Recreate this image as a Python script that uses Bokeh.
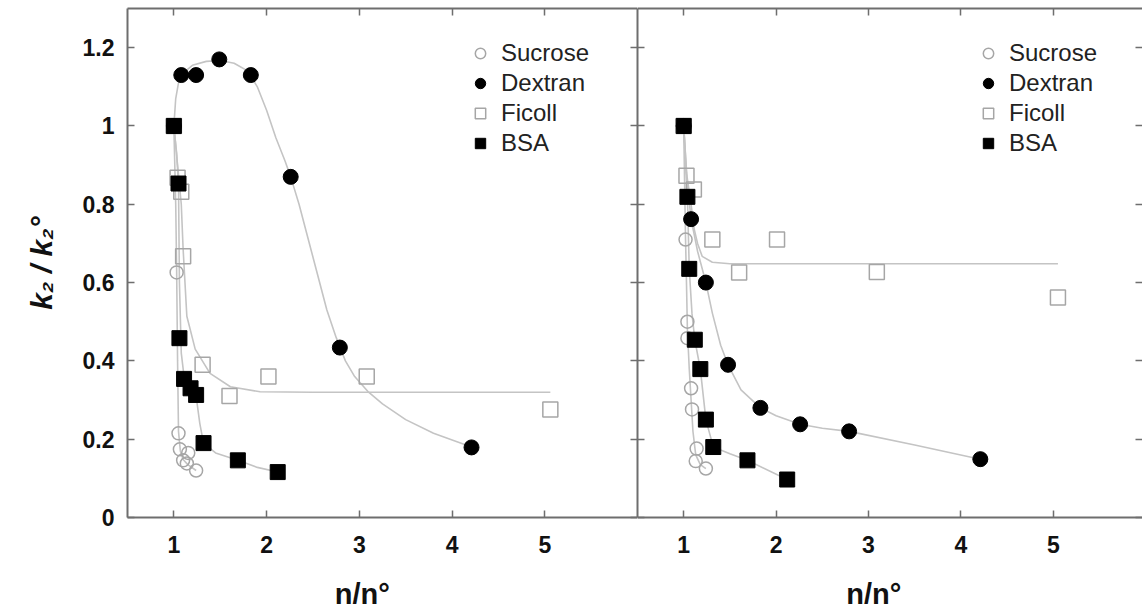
from bokeh.plotting import figure
from bokeh.layouts import row
from bokeh.models import Range1d, LinearAxis, FixedTicker, Legend, LegendItem
from bokeh.embed import file_html
from bokeh.resources import INLINE

# ---------------- data ----------------
series_names = ["Sucrose", "Dextran", "Ficoll", "BSA"]

# left panel
suc_L_x = [1.0, 1.03, 1.05, 1.065, 1.10, 1.14, 1.155, 1.24]
suc_L_y = [1.0, 0.626, 0.215, 0.174, 0.146, 0.138, 0.165, 0.12]
dex_L_x = [1.0, 1.08, 1.24, 1.49, 1.83, 2.26, 2.79, 4.21]
dex_L_y = [1.0, 1.13, 1.13, 1.17, 1.13, 0.87, 0.434, 0.179]
fic_L_x = [1.0, 1.04, 1.08, 1.10, 1.31, 1.60, 2.02, 3.08, 5.06]
fic_L_y = [1.0, 0.868, 0.832, 0.667, 0.39, 0.31, 0.36, 0.36, 0.276]
bsa_L_x = [1.0, 1.05, 1.06, 1.11, 1.18, 1.24, 1.32, 1.69, 2.12]
bsa_L_y = [1.0, 0.853, 0.458, 0.354, 0.33, 0.313, 0.19, 0.146, 0.116]

# left panel fitted curves
fit_suc_L_x = [1.0, 1.02, 1.03, 1.04, 1.05, 1.07, 1.10, 1.15, 1.24]
fit_suc_L_y = [1.0, 0.8, 0.63, 0.4, 0.22, 0.17, 0.148, 0.135, 0.12]
fit_dex_L_x = [1.0, 1.02, 1.05, 1.1, 1.2, 1.35, 1.5, 1.65, 1.8, 1.9, 2.0, 2.1, 2.2, 2.26,
               2.35, 2.45, 2.55, 2.65, 2.75, 2.85, 2.95, 3.1, 3.25, 3.5, 3.8, 4.21]
fit_dex_L_y = [1.0, 1.07, 1.11, 1.135, 1.155, 1.165, 1.167, 1.16, 1.14, 1.10, 1.04, 0.97,
               0.91, 0.87, 0.80, 0.71, 0.62, 0.53, 0.46, 0.40, 0.36, 0.32, 0.29, 0.25,
               0.215, 0.18]
fit_fic_L_x = [1.0, 1.04, 1.08, 1.10, 1.14, 1.23, 1.39, 1.61, 1.93, 2.5, 5.06]
fit_fic_L_y = [1.0, 0.9, 0.8, 0.685, 0.514, 0.43, 0.368, 0.334, 0.321, 0.32, 0.32]
fit_bsa_L_x = [1.0, 1.03, 1.05, 1.06, 1.08, 1.11, 1.18, 1.24, 1.28, 1.32, 1.45, 1.69, 1.9, 2.12]
fit_bsa_L_y = [1.0, 0.93, 0.85, 0.6, 0.42, 0.36, 0.33, 0.31, 0.24, 0.19, 0.165, 0.146, 0.128, 0.116]

# right panel
suc_R_x = [1.0, 1.02, 1.04, 1.04, 1.08, 1.09, 1.13, 1.14, 1.24]
suc_R_y = [1.0, 0.71, 0.50, 0.458, 0.33, 0.276, 0.144, 0.176, 0.125]
dex_R_x = [1.0, 1.08, 1.24, 1.48, 1.83, 2.26, 2.79, 4.21]
dex_R_y = [1.0, 0.762, 0.60, 0.39, 0.28, 0.238, 0.22, 0.149]
fic_R_x = [1.0, 1.03, 1.11, 1.31, 1.60, 2.01, 3.09, 5.05]
fic_R_y = [1.0, 0.873, 0.838, 0.71, 0.626, 0.71, 0.627, 0.562]
bsa_R_x = [1.0, 1.04, 1.06, 1.12, 1.18, 1.24, 1.32, 1.69, 2.12]
bsa_R_y = [1.0, 0.819, 0.635, 0.454, 0.379, 0.25, 0.18, 0.146, 0.097]

# right panel fitted curves
fit_suc_R_x = [1.0, 1.01, 1.02, 1.03, 1.04, 1.06, 1.08, 1.10, 1.13, 1.18, 1.24]
fit_suc_R_y = [1.0, 0.85, 0.71, 0.6, 0.48, 0.38, 0.3, 0.22, 0.16, 0.135, 0.125]
fit_dex_R_x = [1.0, 1.04, 1.08, 1.15, 1.24, 1.31, 1.40, 1.48, 1.62, 1.83, 2.0, 2.26, 2.5,
               2.79, 3.5, 4.21]
fit_dex_R_y = [1.0, 0.85, 0.762, 0.68, 0.60, 0.522, 0.44, 0.39, 0.326, 0.28, 0.26, 0.238, 0.228,
               0.22, 0.185, 0.149]
fit_fic_R_x = [1.0, 1.03, 1.08, 1.11, 1.15, 1.20, 1.31, 1.5, 5.05]
fit_fic_R_y = [1.0, 0.88, 0.80, 0.74, 0.70, 0.667, 0.652, 0.648, 0.648]
fit_bsa_R_x = [1.0, 1.02, 1.04, 1.06, 1.09, 1.12, 1.18, 1.24, 1.32, 1.5, 1.69, 2.12]
fit_bsa_R_y = [1.0, 0.9, 0.82, 0.635, 0.52, 0.454, 0.379, 0.25, 0.18, 0.163, 0.146, 0.097]

x_ticks = [1, 2, 3, 4, 5]
y_ticks = [0, 0.2, 0.4, 0.6, 0.8, 1.0, 1.2]
y_tick_labels = ["0", "0.2", "0.4", "0.6", "0.8", "1", "1.2"]
x_title = "n/n°"
y_title = "k\u2082 / k\u2082°"

# ---------------- styling ----------------
FONT = "Liberation Sans"
AX_COL = "#6e6e6e"
CURVE_COL = "#c4c4c4"
OPEN_COL = "#a6a6a6"
MS = 15
NBSP = "\u00a0"


def style_axis(ax, ticks, show_labels, show_line=True):
    ax.ticker = FixedTicker(ticks=ticks)
    ax.major_tick_in = 7
    ax.major_tick_out = 0
    ax.minor_tick_in = 0
    ax.minor_tick_out = 0
    ax.major_tick_line_color = AX_COL
    ax.major_tick_line_width = 1.5
    ax.axis_line_color = AX_COL if show_line else None
    ax.axis_line_width = 2
    if show_labels:
        ax.major_label_text_font = FONT
        ax.major_label_text_font_style = "bold"
        ax.major_label_text_font_size = "23px"
        ax.major_label_text_color = "#111111"
    else:
        ax.major_label_text_font_size = "0px"
        ax.major_label_text_color = None
        ax.major_label_standoff = 0


def make_panel(width, border_left, x_end, show_ylabels, data, fits, legend_x, pad):
    p = figure(width=width, height=616, x_range=Range1d(0.5, x_end), y_range=Range1d(0, 1.3),
               output_backend="svg", toolbar_location=None,
               min_border_left=border_left, min_border_right=0,
               min_border_top=8, min_border_bottom=99)
    p.outline_line_color = None
    p.grid.visible = False
    p.background_fill_color = "white"
    p.border_fill_color = "white"

    xb = p.xaxis[0]
    style_axis(xb, x_ticks, True)
    xb.major_label_standoff = 18
    xb.axis_label = x_title + NBSP * pad
    xb.axis_label_text_font = FONT
    xb.axis_label_text_font_style = "bold"
    xb.axis_label_text_font_size = "29px"
    xb.axis_label_text_color = "#111111"
    xb.axis_label_standoff = 22

    yl = p.yaxis[0]
    style_axis(yl, y_ticks, show_ylabels)
    if show_ylabels:
        yl.major_label_overrides = {t: s for t, s in zip(y_ticks, y_tick_labels)}
        yl.major_label_standoff = 13
        yl.axis_label = y_title
        yl.axis_label_text_font = FONT
        yl.axis_label_text_font_style = "bold italic"
        yl.axis_label_text_font_size = "30px"
        yl.axis_label_text_color = "#111111"
        yl.axis_label_standoff = 22
    top = LinearAxis()
    style_axis(top, x_ticks, False)
    p.add_layout(top, "above")
    right = LinearAxis()
    style_axis(right, y_ticks, False, show_line=show_ylabels)
    p.add_layout(right, "right")

    # fitted curves
    for fx, fy in fits:
        p.line(fx, fy, line_color=CURVE_COL, line_width=1.6)

    (sx, sy), (dx, dy), (fx_, fy_), (bx, by) = data
    r_suc = p.scatter(sx, sy, marker="circle", size=MS - 2, fill_color=None,
                      line_color=OPEN_COL, line_width=1.5)
    r_fic = p.scatter(fx_, fy_, marker="square", size=MS, fill_color=None,
                      line_color=OPEN_COL, line_width=1.5)
    r_dex = p.scatter(dx, dy, marker="circle", size=MS, fill_color="black",
                      line_color="black")
    r_bsa = p.scatter(bx, by, marker="square", size=MS, fill_color="black",
                      line_color="black")

    legend = Legend(items=[LegendItem(label=series_names[0], renderers=[r_suc]),
                           LegendItem(label=series_names[1], renderers=[r_dex]),
                           LegendItem(label=series_names[2], renderers=[r_fic]),
                           LegendItem(label=series_names[3], renderers=[r_bsa])],
                    location=(legend_x, 360), glyph_width=26, glyph_height=26,
                    label_standoff=8, spacing=2, padding=0, margin=0,
                    border_line_color=None, background_fill_alpha=0,
                    label_text_font=FONT, label_text_font_size="24px",
                    label_text_color="#222222")
    p.add_layout(legend)
    return p


p1 = make_panel(637, 127, 6.0, True,
                [(suc_L_x, suc_L_y), (dex_L_x, dex_L_y), (fic_L_x, fic_L_y), (bsa_L_x, bsa_L_y)],
                [(fit_suc_L_x, fit_suc_L_y), (fit_dex_L_x, fit_dex_L_y),
                 (fit_fic_L_x, fit_fic_L_y), (fit_bsa_L_x, fit_bsa_L_y)], 340, 5)
p2 = make_panel(505, 0, 5.965, False,
                [(suc_R_x, suc_R_y), (dex_R_x, dex_R_y), (fic_R_x, fic_R_y), (bsa_R_x, bsa_R_y)],
                [(fit_suc_R_x, fit_suc_R_y), (fit_dex_R_x, fit_dex_R_y),
                 (fit_fic_R_x, fit_fic_R_y), (fit_bsa_R_x, fit_bsa_R_y)], 338, 4)

layout = row(p1, p2)
open("out.html", "w").write(file_html(layout, INLINE))
